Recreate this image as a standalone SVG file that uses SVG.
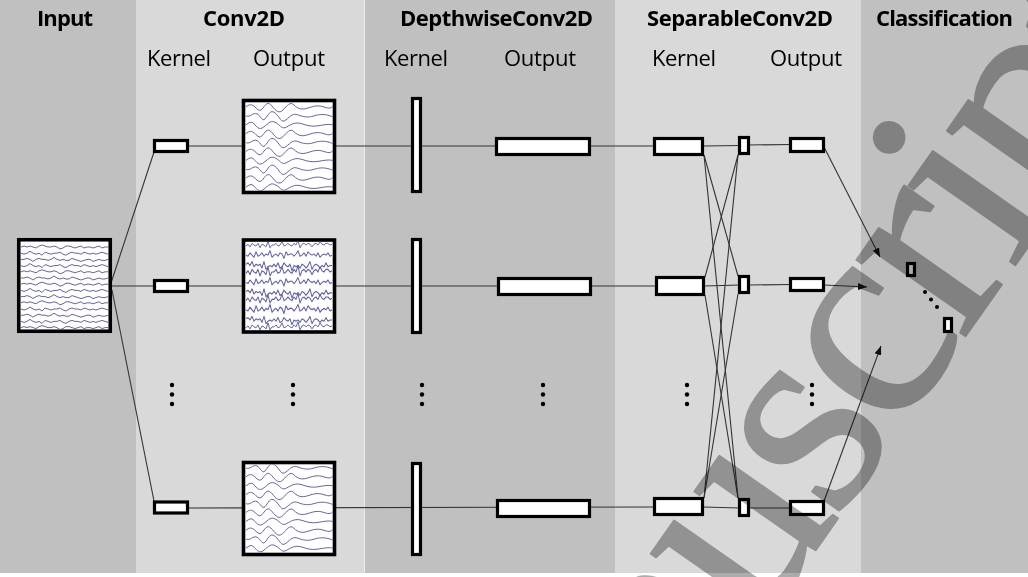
<svg xmlns="http://www.w3.org/2000/svg" width="1028" height="577" viewBox="0 0 1028 577">
<style>
.h{font-family:"Open Sans","Liberation Sans",sans-serif;font-size:22px;font-weight:bold;fill:#000;text-anchor:middle}
.s{font-family:"Open Sans","Liberation Sans",sans-serif;font-size:22px;fill:#000;text-anchor:middle}
.box{fill:#fff;stroke:#000;stroke-width:3.2}
.big{fill:#fff;stroke:#000;stroke-width:3.6}
.ln{fill:none;stroke:#333;stroke-width:1.1}
.wave{fill:none;stroke:#5252aa;stroke-width:0.95;stroke-linejoin:round;opacity:0.95}
.dot{fill:#000}
.wm{font-family:"Liberation Serif","Times New Roman",serif;font-size:290px;letter-spacing:-10px;fill:#acacac;stroke:#acacac;stroke-width:2;stroke-linejoin:round;mix-blend-mode:multiply}
</style>
<defs>
<marker id="ah" markerUnits="userSpaceOnUse" markerWidth="9" markerHeight="7" refX="9" refY="3.5" orient="auto">
<path d="M0 0L9 3.5L0 7z" fill="#111"/>
</marker>
<path id="n1" d="M0 0l3 -1 3 1 3 -1 3 1 3 1 3 -2 3 -1 3 1 3 1 3 0 3 -1 3 1 3 2 3 -1 3 -2 3 0 3 1 3 1 3 -1 3 -1 3 2 3 -1 3 0 3 1 3 -1 3 -1 3 2 3 -1 3 0"/>
<path id="n2" d="M0 0l3 1 3 -1 3 -2 3 2 3 1 3 -1 3 2 3 -3 3 1 3 1 3 -1 3 0 3 -1 3 2 3 1 3 -2 3 -1 3 1 3 0 3 1 3 -2 3 1 3 1 3 -1 3 1 3 -1 3 -1 3 1 3 1"/>
<path id="n3" d="M0 0l3 0 3 -1 3 1 3 2 3 -2 3 -1 3 1 3 0 3 1 3 -1 3 -2 3 2 3 1 3 -1 3 1 3 0 3 -2 3 1 3 1 3 1 3 -1 3 -1 3 0 3 2 3 -1 3 -1 3 1 3 0 3 -1"/>
<path id="s1" d="M0 0C3 -3 6 -3 9 0S14 5 17 1S22 -6 26 -1S33 7 37 3S44 -6 48 -2S56 3 62 1S72 -2 78 0S85 1 87 -1"/>
<path id="s2" d="M0 0C4 2 7 -4 11 -2S16 6 19 3S24 -7 29 -3S35 8 40 4S47 -3 52 -1S62 2 68 0S80 -2 87 1"/>
<path id="s3" d="M0 0C3 -2 5 -4 8 -1S13 6 18 2S25 -5 30 -2S36 5 41 2S50 -3 56 -1S66 2 72 1S82 -1 87 0"/>
<path id="k1" d="M0 0l2 -2 2 3 2 -4 2 2 2 1 2 -3 2 5 2 -4 2 1 2 2 2 -6 2 7 2 -3 2 0 2 -2 2 3 2 -1 2 -4 2 5 2 -1 2 -2 2 2 2 1 2 -3 2 2 2 -5 2 8 2 -4 2 -1 2 2 2 -2 2 1 2 3 2 -3 2 -1 2 2 2 -4 2 3 2 1 2 -2 2 0 2 2 2 -1"/>
<path id="k2" d="M0 0l2 1 2 -3 2 2 2 2 2 -5 2 4 2 -1 2 -2 2 3 2 -2 2 1 2 -4 2 6 2 -2 2 -1 2 2 2 -3 2 1 2 4 2 -6 2 3 2 -1 2 0 2 2 2 -2 2 -3 2 5 2 -1 2 -2 2 3 2 -4 2 2 2 1 2 -1 2 2 2 -3 2 4 2 -2 2 -1 2 1 2 -2 2 3 2 -1"/>
<path id="k3" d="M0 0l2 -1 2 2 2 -3 2 4 2 -2 2 1 2 -1 2 3 2 -5 2 6 2 -2 2 -1 2 1 2 -2 2 2 2 -3 2 4 2 -1 2 -3 2 2 2 1 2 -2 2 5 2 -4 2 1 2 -1 2 2 2 -3 2 1 2 2 2 -2 2 -3 2 6 2 -3 2 -1 2 1 2 2 2 -2 2 1 2 -3 2 3 2 -1 2 0"/>
<clipPath id="cIn"><rect x="20.5" y="241.5" width="88.5" height="88.5"/></clipPath>
<clipPath id="cC1"><rect x="245.25" y="102.25" width="87.5" height="88.5"/></clipPath>
<clipPath id="cC2"><rect x="245.25" y="241.75" width="87.5" height="88.5"/></clipPath>
<clipPath id="cC3"><rect x="245.25" y="464.25" width="87.5" height="88.5"/></clipPath>
</defs>

<g id="panels">
<rect x="0" y="0" width="136" height="573" fill="#c0c0c0"/>
<rect x="136" y="0" width="229" height="573" fill="#d9d9d9"/>
<rect x="365" y="0" width="250" height="573" fill="#c0c0c0"/>
<rect x="615" y="0" width="246" height="573" fill="#d9d9d9"/>
<rect x="861" y="0" width="167" height="573" fill="#c0c0c0"/>
<line x1="364.5" y1="0" x2="364.5" y2="573" stroke="#ececec" stroke-width="1"/>
</g>

<g id="labels">
<text class="h" x="65" y="26" textLength="56">Input</text>
<text class="h" x="244" y="26" textLength="82">Conv2D</text>
<text class="h" x="496.5" y="26" textLength="193">DepthwiseConv2D</text>
<text class="h" x="740" y="26" textLength="186">SeparableConv2D</text>
<text class="h" x="944.5" y="26" textLength="137">Classification</text>
<text class="s" x="179" y="66" textLength="64">Kernel</text>
<text class="s" x="289" y="66" textLength="72">Output</text>
<text class="s" x="416" y="66" textLength="64">Kernel</text>
<text class="s" x="540" y="66" textLength="72">Output</text>
<text class="s" x="684" y="66" textLength="64">Kernel</text>
<text class="s" x="806" y="66" textLength="72">Output</text>
</g>

<g id="connectors">
<polyline class="ln" points="111,283 154,152"/>
<polyline class="ln" points="112,286 154,286"/>
<polyline class="ln" points="112,290 154,501"/>
<polyline class="ln" points="188,146 655,146"/>
<polyline class="ln" points="188,286 657,286"/>
<polyline class="ln" points="188,508 655,507"/>
<polyline class="ln" points="703,146 740,145.5"/>
<polyline class="ln" points="704,286 740,285"/>
<polyline class="ln" points="703,507 740,508"/>
<polyline class="ln" points="748,145 791,144.5"/>
<polyline class="ln" points="748,285 791,284.5"/>
<polyline class="ln" points="748,508 791,508"/>
<line class="ln" x1="704" y1="155" x2="738" y2="276"/>
<line class="ln" x1="704" y1="155" x2="738" y2="498"/>
<line class="ln" x1="738" y1="155" x2="705" y2="277"/>
<line class="ln" x1="738" y1="155" x2="704" y2="498"/>
<line class="ln" x1="705" y1="295" x2="738" y2="498"/>
<line class="ln" x1="738" y1="294" x2="704" y2="498"/>
<line class="ln" x1="824" y1="147" x2="880" y2="257" marker-end="url(#ah)"/>
<line class="ln" x1="824" y1="285" x2="867" y2="287" marker-end="url(#ah)"/>
<line class="ln" x1="824" y1="501" x2="881" y2="346" marker-end="url(#ah)"/>
</g>

<g id="input">
<rect class="big" x="18.75" y="239.75" width="91.5" height="91.5"/>
<g clip-path="url(#cIn)" class="wave">
<use href="#n1" x="21" y="247"/><use href="#n2" x="21" y="253.2"/><use href="#n3" x="21" y="259.4"/>
<use href="#n2" x="21" y="265.6"/><use href="#n1" x="21" y="271.8"/><use href="#n3" x="21" y="278"/>
<use href="#n1" x="21" y="284.2"/><use href="#n2" x="21" y="290.4"/><use href="#n3" x="21" y="296.6"/>
<use href="#n1" x="21" y="302.8"/><use href="#n2" x="21" y="309"/><use href="#n3" x="21" y="315.2"/>
<use href="#n2" x="21" y="321.4"/><use href="#n1" x="21" y="327.6"/>
</g>
</g>

<g id="conv-kernel-1"><rect class="box" x="154.5" y="140.5" width="33" height="11"/></g>
<g id="conv-kernel-2"><rect class="box" x="154.5" y="280.5" width="33" height="11"/></g>
<g id="conv-kernel-3"><rect class="box" x="154.5" y="502" width="33" height="11"/></g>

<g id="conv-output-1">
<rect class="big" x="243.5" y="100.5" width="91" height="92"/>
<g clip-path="url(#cC1)" class="wave">
<use href="#s1" x="246" y="107"/><use href="#s2" x="246" y="115.9"/><use href="#s3" x="246" y="124.8"/>
<use href="#s1" x="246" y="133.7"/><use href="#s2" x="246" y="142.6"/><use href="#s1" x="246" y="151.5"/>
<use href="#s3" x="246" y="160.4"/><use href="#s2" x="246" y="169.3"/><use href="#s1" x="246" y="178.2"/>
<use href="#s3" x="246" y="187.1"/>
</g>
</g>
<g id="conv-output-2">
<rect class="big" x="243.5" y="240" width="91" height="92"/>
<g clip-path="url(#cC2)" class="wave">
<use href="#k1" transform="translate(246 246) scale(1 0.9)"/><use href="#k2" transform="translate(246 255.1) scale(1 1.1)"/>
<use href="#k3" transform="translate(246 264.2) scale(1 1.3)"/><use href="#k1" transform="translate(246 273.3) scale(1 1.3)"/>
<use href="#k2" transform="translate(246 282.4) scale(1 1.2)"/><use href="#k3" transform="translate(246 291.5) scale(1 1.3)"/>
<use href="#k1" transform="translate(246 300.6) scale(1 1.2)"/><use href="#k2" transform="translate(246 309.7) scale(1 1.3)"/>
<use href="#k3" transform="translate(246 318.8) scale(1 1.2)"/><use href="#k1" transform="translate(246 327.9) scale(1 1)"/>
</g>
</g>
<g id="conv-output-3">
<rect class="big" x="243.5" y="462.5" width="91" height="92"/>
<g clip-path="url(#cC3)" class="wave">
<use href="#s2" x="246" y="468"/><use href="#s1" x="246" y="476.9"/><use href="#s3" x="246" y="485.8"/>
<use href="#s1" x="246" y="494.7"/><use href="#s2" x="246" y="503.6"/><use href="#s1" x="246" y="512.5"/>
<use href="#s3" x="246" y="521.4"/><use href="#s1" x="246" y="530.3"/><use href="#s2" x="246" y="539.2"/>
<use href="#s3" x="246" y="548.1"/>
</g>
</g>

<g id="dw-kernel-1"><rect class="box" x="412.5" y="98.5" width="8" height="93"/></g>
<g id="dw-kernel-2"><rect class="box" x="412.5" y="239.5" width="8" height="93"/></g>
<g id="dw-kernel-3"><rect class="box" x="412.5" y="463.5" width="8" height="91"/></g>

<g id="dw-output-1"><rect class="box" x="496.5" y="138.5" width="93" height="16"/></g>
<g id="dw-output-2"><rect class="box" x="498.5" y="278.5" width="92" height="16"/></g>
<g id="dw-output-3"><rect class="box" x="497.5" y="500.5" width="92" height="16"/></g>

<g id="sep-kernel-1"><rect class="box" x="654.5" y="138.5" width="48" height="16"/></g>
<g id="sep-kernel-2"><rect class="box" x="656.5" y="277.5" width="47" height="17"/></g>
<g id="sep-kernel-3"><rect class="box" x="654.5" y="498.5" width="48" height="16"/></g>

<g id="sep-point-1"><rect class="box" x="739.5" y="137.5" width="9" height="16"/></g>
<g id="sep-point-2"><rect class="box" x="739.5" y="276.5" width="9" height="16"/></g>
<g id="sep-point-3"><rect class="box" x="739.5" y="499.5" width="9" height="16"/></g>

<g id="sep-output-1"><rect class="box" x="790.5" y="138.5" width="33" height="13"/></g>
<g id="sep-output-2"><rect class="box" x="790.5" y="278.5" width="33" height="12"/></g>
<g id="sep-output-3"><rect class="box" x="790.5" y="501.5" width="33" height="13"/></g>

<g id="class-1"><rect class="box" x="907.5" y="263.5" width="7" height="12"/></g>
<g id="class-2"><rect class="box" x="944.5" y="318.5" width="7" height="13"/></g>

<g id="ellipses">
<circle class="dot" cx="172" cy="385" r="2.2"/><circle class="dot" cx="172" cy="394.5" r="2.2"/><circle class="dot" cx="172" cy="404" r="2.2"/>
<circle class="dot" cx="293" cy="385" r="2.2"/><circle class="dot" cx="293" cy="394.5" r="2.2"/><circle class="dot" cx="293" cy="404" r="2.2"/>
<circle class="dot" cx="422" cy="385" r="2.2"/><circle class="dot" cx="422" cy="394.5" r="2.2"/><circle class="dot" cx="422" cy="404" r="2.2"/>
<circle class="dot" cx="543" cy="385" r="2.2"/><circle class="dot" cx="543" cy="394.5" r="2.2"/><circle class="dot" cx="543" cy="404" r="2.2"/>
<circle class="dot" cx="687" cy="385" r="2.2"/><circle class="dot" cx="687" cy="394.5" r="2.2"/><circle class="dot" cx="687" cy="404" r="2.2"/>
<circle class="dot" cx="812" cy="385" r="2.2"/><circle class="dot" cx="812" cy="394.5" r="2.2"/><circle class="dot" cx="812" cy="404" r="2.2"/>
<circle class="dot" cx="925" cy="292" r="2"/><circle class="dot" cx="931" cy="299.5" r="2"/><circle class="dot" cx="937" cy="307" r="2"/>
</g>

<text class="wm" x="470" y="1044" transform="rotate(-55 470 1044)">Manuscript</text>
</svg>
